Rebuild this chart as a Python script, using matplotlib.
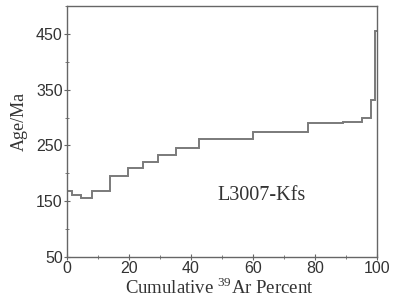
import numpy as np
import matplotlib
matplotlib.use('Agg')
import matplotlib.pyplot as plt
from matplotlib.ticker import MultipleLocator

# step boundaries (cumulative 39Ar %) and plateau ages (Ma)
edges = [0, 1.8, 4.4, 8.0, 13.9, 19.8, 24.4, 29.5, 35.2, 42.7, 59.9, 77.8, 89.1, 95.3, 98.2, 99.4, 100]
ages = [168, 162, 156, 168, 195, 210, 221, 233, 245, 262, 275, 290, 292, 299, 332, 456]
sample = 'L3007-Kfs'

plt.rcParams['font.family'] = 'Liberation Sans'
plt.rcParams['mathtext.fontset'] = 'custom'
plt.rcParams['mathtext.rm'] = 'Liberation Serif'

fig = plt.figure(figsize=(3.98, 3.02), dpi=100)
ax = fig.add_axes([0.168, 0.149, 0.779, 0.831])

ax.stairs(ages, edges, color='#7a7a7a', linewidth=1.4, baseline=None)

ax.set_xlim(0, 100)
ax.set_ylim(50, 500)
ax.set_xticks([0, 20, 40, 60, 80, 100])
ax.set_yticks([50, 150, 250, 350, 450])
ax.xaxis.set_minor_locator(MultipleLocator(10))
ax.yaxis.set_minor_locator(MultipleLocator(50))
ax.tick_params(which='both', direction='inout', color='#666666', labelcolor='#333333')
ax.tick_params(which='major', length=4, labelsize=11.5, pad=1)
ax.tick_params(which='minor', length=3)
for s in ax.spines.values():
    s.set_color('#666666')
    s.set_linewidth(1.0)

ax.set_ylabel('Age/Ma', family='Liberation Serif', fontsize=13, color='#333333')
ax.yaxis.set_label_coords(-0.125, 0.54)
ax.set_xlabel(r'Cumulative $^{39}$Ar Percent', family='Liberation Serif', fontsize=13.5,
              color='#333333')
ax.xaxis.set_label_coords(0.49, -0.08)
ax.text(48.5, 160, sample, family='Liberation Serif', fontsize=14.5, color='#333333',
        va='center', ha='left')

fig.savefig('out.png', dpi=100)
